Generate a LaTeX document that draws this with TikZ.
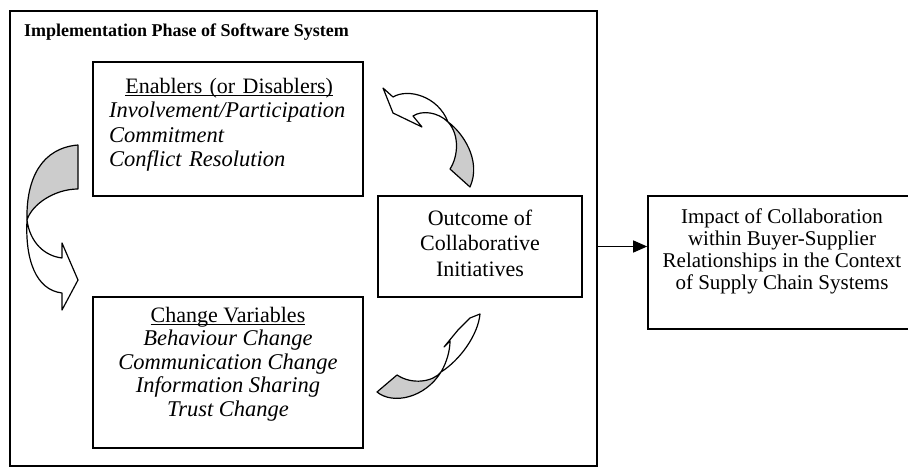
\documentclass[tikz,border=0pt]{standalone}
\usepackage{fontspec}
\setmainfont{Liberation Serif}
\usetikzlibrary{arrows.meta}
\definecolor{ribbonback}{RGB}{204,204,204}
% underline drawn just below the baseline
\newcommand{\baseul}[1]{\setbox0\hbox{#1}\rlap{\rule[-2.3pt]{\wd0}{1pt}}\box0}
\tikzset{
  panel/.style={draw, line width=1.6pt, inner sep=0pt},
  boxtext/.style={inner sep=0pt, font=\fontsize{22}{24.3}\selectfont},
  ribbon/.style={draw, line width=1.2pt, line join=round, fill=white},
  ribbonshade/.style={ribbon, fill=ribbonback},
  conn/.style={line width=1.3pt, -{Triangle[length=14pt,width=12pt]}}
}
\newcommand{\itline}[1]{{\fontsize{22.5}{24.3}\selectfont\itshape #1}}
\begin{document}
\begin{tikzpicture}[x=1pt,y=-1pt]
\useasboundingbox (0,0) rectangle (908,476);
\clip (0,0) rectangle (908,476);

% boxes
\node[panel, minimum width=587pt, minimum height=455pt] (frame) at (303.5,238.5) {};
\node[panel, minimum width=270pt, minimum height=134pt] (enablers) at (228,129) {};
\node[panel, minimum width=270pt, minimum height=151pt] (change) at (228,372.5) {};
\node[panel, minimum width=204pt, minimum height=101pt] (outcome) at (480,246.5) {};
\node[panel, minimum width=268pt, minimum height=133pt] (impact) at (782,262.5) {};

% texts
\node[anchor=base west, inner sep=0pt, font=\fontsize{18}{20}\selectfont\bfseries] (phase)
  at (24,37) {Implementation Phase of Software System};
\node[boxtext, anchor=north west, text width=240pt, align=left] (enablerstext) at (109,78)
  {\makebox[\linewidth][c]{\baseul{Enablers (or Disablers)}}\\
   \itline{Involvement/Participation}\\
   \itline{Commitment}\\
   \itline{Conflict Resolution}};
\node[boxtext, anchor=north, align=center, font=\fontsize{22}{23.4}\selectfont] (changetext) at (228,307)
  {\baseul{Change Variables}\\
   \itline{Behaviour Change}\\
   \itline{Communication Change}\\
   \itline{Information Sharing}\\
   \itline{Trust Change}};
\node[boxtext, align=center, font=\fontsize{22}{25.5}\selectfont] (outcometext) at (480,243)
  {Outcome of\\Collaborative\\Initiatives};
\node[boxtext, align=center, font=\fontsize{21}{22}\selectfont] (impacttext) at (782,251)
  {Impact of Collaboration\\within Buyer-Supplier\\Relationships in the Context\\of Supply Chain Systems};

% connector to the impact box
\draw[conn] (outcome.center -| frame.east) -- (outcome.center -| impact.west);

% curved ribbon arrow on the left: enablers -> change variables
\path[ribbonshade] (78,145) .. controls (42,148) and (26,178) .. (27,220)
  .. controls (32,204) and (55,189) .. (78,189) -- cycle;
\path[ribbon] (27,220) .. controls (30,243) and (45,256) .. (62,258)
  -- (62,243) -- (78,280) -- (62,310) -- (62,293)
  .. controls (36,290) and (25,260) .. (27,220) -- cycle;

% curved ribbon arrow, upper right: outcome -> enablers
\path[ribbonshade] (448,122) .. controls (462,132) and (482,160) .. (470,187)
  -- (450,169) .. controls (458,157) and (460,135) .. (448,122) -- cycle;
\path[ribbon] (383,88) -- (393,97) .. controls (408,88) and (438,96) .. (448,122)
  .. controls (438,112) and (422,110) .. (413,116)
  -- (422,127) -- (393,113) -- cycle;

% curved ribbon arrow, lower right: change variables -> outcome
\path[ribbonshade] (441,372) .. controls (433,382) and (412,385) .. (397,375)
  -- (377,392) .. controls (393,405) and (425,398) .. (441,372) -- cycle;
\path[ribbon] (480,314) -- (470,318) -- (458,330) -- (444,347) -- (450,341)
  .. controls (450,350) and (447,362) .. (441,372)
  .. controls (460,360) and (478,335) .. (480,314) -- cycle;
\end{tikzpicture}
\end{document}
